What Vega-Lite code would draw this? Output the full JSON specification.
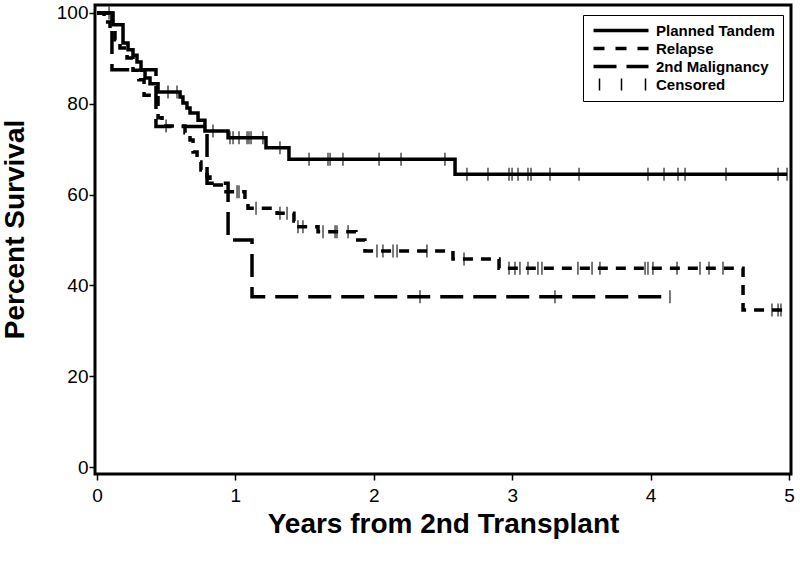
{
  "$schema": "https://vega.github.io/schema/vega-lite/v6.json",
  "width": 696,
  "height": 469,
  "autosize": {"type": "none"},
  "padding": {"left": 95, "top": 5, "right": 9, "bottom": 95},
  "background": "white",
  "config": {
    "view": {"stroke": "black", "strokeWidth": 3},
    "font": "Liberation Sans",
    "axis": {
      "domain": false,
      "grid": false,
      "tickColor": "black",
      "tickWidth": 1.5,
      "labelColor": "black",
      "labelFont": "Liberation Sans",
      "labelFontSize": 19,
      "titleColor": "black",
      "titleFont": "Liberation Sans",
      "titleFontSize": 28,
      "titleFontWeight": "bold"
    }
  },
  "datasets": {
    "curves": [
      {"g": "Planned Tandem", "t": 0, "s": 100},
      {"g": "Planned Tandem", "t": 0.116, "s": 97.4},
      {"g": "Planned Tandem", "t": 0.188, "s": 93.4},
      {"g": "Planned Tandem", "t": 0.224, "s": 91.9},
      {"g": "Planned Tandem", "t": 0.26, "s": 90.7},
      {"g": "Planned Tandem", "t": 0.289, "s": 89.2},
      {"g": "Planned Tandem", "t": 0.318, "s": 87.4},
      {"g": "Planned Tandem", "t": 0.347, "s": 85.7},
      {"g": "Planned Tandem", "t": 0.383, "s": 84.4},
      {"g": "Planned Tandem", "t": 0.441, "s": 82.6},
      {"g": "Planned Tandem", "t": 0.6, "s": 81.5},
      {"g": "Planned Tandem", "t": 0.621, "s": 80.2},
      {"g": "Planned Tandem", "t": 0.65, "s": 79.1},
      {"g": "Planned Tandem", "t": 0.672, "s": 78.0},
      {"g": "Planned Tandem", "t": 0.73, "s": 76.4},
      {"g": "Planned Tandem", "t": 0.78, "s": 74.0},
      {"g": "Planned Tandem", "t": 0.947, "s": 72.5},
      {"g": "Planned Tandem", "t": 1.221, "s": 70.3},
      {"g": "Planned Tandem", "t": 1.387, "s": 67.8},
      {"g": "Planned Tandem", "t": 2.587, "s": 64.5},
      {"g": "Planned Tandem", "t": 4.986, "s": 64.5},
      {"g": "Relapse", "t": 0, "s": 100},
      {"g": "Relapse", "t": 0.051, "s": 98.0},
      {"g": "Relapse", "t": 0.094, "s": 96.3},
      {"g": "Relapse", "t": 0.13, "s": 94.1},
      {"g": "Relapse", "t": 0.166, "s": 92.3},
      {"g": "Relapse", "t": 0.217, "s": 90.1},
      {"g": "Relapse", "t": 0.26, "s": 87.4},
      {"g": "Relapse", "t": 0.303, "s": 85.3},
      {"g": "Relapse", "t": 0.34, "s": 81.9},
      {"g": "Relapse", "t": 0.441, "s": 76.9},
      {"g": "Relapse", "t": 0.47, "s": 75.1},
      {"g": "Relapse", "t": 0.636, "s": 73.6},
      {"g": "Relapse", "t": 0.672, "s": 72.0},
      {"g": "Relapse", "t": 0.694, "s": 69.4},
      {"g": "Relapse", "t": 0.723, "s": 67.2},
      {"g": "Relapse", "t": 0.751, "s": 65.4},
      {"g": "Relapse", "t": 0.795, "s": 63.9},
      {"g": "Relapse", "t": 0.816, "s": 62.1},
      {"g": "Relapse", "t": 0.932, "s": 60.6},
      {"g": "Relapse", "t": 1.069, "s": 58.1},
      {"g": "Relapse", "t": 1.091, "s": 57.0},
      {"g": "Relapse", "t": 1.301, "s": 55.9},
      {"g": "Relapse", "t": 1.423, "s": 54.2},
      {"g": "Relapse", "t": 1.438, "s": 52.9},
      {"g": "Relapse", "t": 1.597, "s": 51.8},
      {"g": "Relapse", "t": 1.871, "s": 50.0},
      {"g": "Relapse", "t": 1.936, "s": 47.6},
      {"g": "Relapse", "t": 2.572, "s": 45.8},
      {"g": "Relapse", "t": 2.905, "s": 43.8},
      {"g": "Relapse", "t": 4.668, "s": 34.6},
      {"g": "Relapse", "t": 4.957, "s": 34.6},
      {"g": "2nd Malignancy", "t": 0, "s": 100},
      {"g": "2nd Malignancy", "t": 0.108, "s": 87.5},
      {"g": "2nd Malignancy", "t": 0.426, "s": 75.0},
      {"g": "2nd Malignancy", "t": 0.795, "s": 62.5},
      {"g": "2nd Malignancy", "t": 0.947, "s": 50.0},
      {"g": "2nd Malignancy", "t": 1.12, "s": 37.5},
      {"g": "2nd Malignancy", "t": 4.14, "s": 37.5}
    ],
    "censor": [
      {"g": "Planned Tandem", "t": 0.087, "s": 100},
      {"g": "Planned Tandem", "t": 0.513, "s": 82.6},
      {"g": "Planned Tandem", "t": 0.578, "s": 82.6},
      {"g": "Planned Tandem", "t": 0.838, "s": 74.0},
      {"g": "Planned Tandem", "t": 0.961, "s": 72.5},
      {"g": "Planned Tandem", "t": 0.983, "s": 72.5},
      {"g": "Planned Tandem", "t": 1.026, "s": 72.5},
      {"g": "Planned Tandem", "t": 1.084, "s": 72.5},
      {"g": "Planned Tandem", "t": 1.098, "s": 72.5},
      {"g": "Planned Tandem", "t": 1.113, "s": 72.5},
      {"g": "Planned Tandem", "t": 1.199, "s": 72.5},
      {"g": "Planned Tandem", "t": 1.322, "s": 70.3},
      {"g": "Planned Tandem", "t": 1.532, "s": 67.8},
      {"g": "Planned Tandem", "t": 1.669, "s": 67.8},
      {"g": "Planned Tandem", "t": 1.684, "s": 67.8},
      {"g": "Planned Tandem", "t": 1.777, "s": 67.8},
      {"g": "Planned Tandem", "t": 2.038, "s": 67.8},
      {"g": "Planned Tandem", "t": 2.197, "s": 67.8},
      {"g": "Planned Tandem", "t": 2.514, "s": 67.8},
      {"g": "Planned Tandem", "t": 2.673, "s": 64.5},
      {"g": "Planned Tandem", "t": 2.825, "s": 64.5},
      {"g": "Planned Tandem", "t": 2.977, "s": 64.5},
      {"g": "Planned Tandem", "t": 2.999, "s": 64.5},
      {"g": "Planned Tandem", "t": 3.042, "s": 64.5},
      {"g": "Planned Tandem", "t": 3.114, "s": 64.5},
      {"g": "Planned Tandem", "t": 3.136, "s": 64.5},
      {"g": "Planned Tandem", "t": 3.273, "s": 64.5},
      {"g": "Planned Tandem", "t": 3.483, "s": 64.5},
      {"g": "Planned Tandem", "t": 3.981, "s": 64.5},
      {"g": "Planned Tandem", "t": 4.097, "s": 64.5},
      {"g": "Planned Tandem", "t": 4.198, "s": 64.5},
      {"g": "Planned Tandem", "t": 4.249, "s": 64.5},
      {"g": "Planned Tandem", "t": 4.545, "s": 64.5},
      {"g": "Planned Tandem", "t": 4.921, "s": 64.5},
      {"g": "Planned Tandem", "t": 4.986, "s": 64.5},
      {"g": "Relapse", "t": 0.499, "s": 75.1},
      {"g": "Relapse", "t": 1.012, "s": 60.6},
      {"g": "Relapse", "t": 1.026, "s": 60.6},
      {"g": "Relapse", "t": 1.149, "s": 57.0},
      {"g": "Relapse", "t": 1.322, "s": 55.9},
      {"g": "Relapse", "t": 1.373, "s": 55.9},
      {"g": "Relapse", "t": 1.452, "s": 52.9},
      {"g": "Relapse", "t": 1.488, "s": 52.9},
      {"g": "Relapse", "t": 1.633, "s": 51.8},
      {"g": "Relapse", "t": 1.72, "s": 51.8},
      {"g": "Relapse", "t": 1.734, "s": 51.8},
      {"g": "Relapse", "t": 1.814, "s": 51.8},
      {"g": "Relapse", "t": 2.023, "s": 47.6},
      {"g": "Relapse", "t": 2.066, "s": 47.6},
      {"g": "Relapse", "t": 2.139, "s": 47.6},
      {"g": "Relapse", "t": 2.168, "s": 47.6},
      {"g": "Relapse", "t": 2.384, "s": 47.6},
      {"g": "Relapse", "t": 2.652, "s": 45.8},
      {"g": "Relapse", "t": 2.977, "s": 43.8},
      {"g": "Relapse", "t": 3.02, "s": 43.8},
      {"g": "Relapse", "t": 3.056, "s": 43.8},
      {"g": "Relapse", "t": 3.114, "s": 43.8},
      {"g": "Relapse", "t": 3.186, "s": 43.8},
      {"g": "Relapse", "t": 3.215, "s": 43.8},
      {"g": "Relapse", "t": 3.475, "s": 43.8},
      {"g": "Relapse", "t": 3.577, "s": 43.8},
      {"g": "Relapse", "t": 3.634, "s": 43.8},
      {"g": "Relapse", "t": 3.96, "s": 43.8},
      {"g": "Relapse", "t": 3.981, "s": 43.8},
      {"g": "Relapse", "t": 4.017, "s": 43.8},
      {"g": "Relapse", "t": 4.191, "s": 43.8},
      {"g": "Relapse", "t": 4.357, "s": 43.8},
      {"g": "Relapse", "t": 4.422, "s": 43.8},
      {"g": "Relapse", "t": 4.523, "s": 43.8},
      {"g": "Relapse", "t": 4.877, "s": 34.6},
      {"g": "Relapse", "t": 4.921, "s": 34.6},
      {"g": "Relapse", "t": 4.942, "s": 34.6},
      {"g": "2nd Malignancy", "t": 2.334, "s": 37.5},
      {"g": "2nd Malignancy", "t": 3.309, "s": 37.5},
      {"g": "2nd Malignancy", "t": 4.14, "s": 37.5}
    ]
  },
  "encoding": {
    "x": {
      "field": "t", "type": "quantitative",
      "scale": {"domain": [-0.0145, 5.0145], "nice": false, "zero": false},
      "axis": {"values": [0, 1, 2, 3, 4, 5], "tickSize": 6, "labelPadding": 6, "title": "Years from 2nd Transplant", "titleY": 50, "titleBaseline": "middle"}
    },
    "y": {
      "field": "s", "type": "quantitative",
      "scale": {"domain": [-1.54, 101.76], "nice": false, "zero": false},
      "axis": {"values": [0, 20, 40, 60, 80, 100], "tickSize": 6, "labelPadding": 1, "title": "Percent Survival", "titleX": -80, "titleY": 224, "titleBaseline": "middle", "titleAngle": -90}
    }
  },
  "layer": [
    {
      "data": {"name": "curves"},
      "mark": {"type": "line", "interpolate": "step-after", "color": "black", "strokeWidth": 3.5},
      "encoding": {
        "order": {"field": "t", "type": "quantitative"},
        "strokeDash": {
          "field": "g", "type": "nominal",
          "scale": {"domain": ["Planned Tandem", "Relapse", "2nd Malignancy"], "range": [[1, 0], [10, 8], [23, 10]]},
          "legend": null
        }
      }
    },
    {
      "data": {"name": "censor"},
      "mark": {"type": "tick", "orient": "vertical", "size": 13, "thickness": 1.5, "color": "black"}
    },
    {
      "data": {"name": "curves"},
      "mark": {"type": "point", "opacity": 0, "filled": true, "color": "black", "size": 100},
      "encoding": {
        "shape": {
          "field": "g", "type": "nominal",
          "scale": {
            "domain": ["Planned Tandem", "Relapse", "2nd Malignancy", "Censored"],
            "range": [
              "M-1,-0.35H10V0.35H-1Z",
              "M-1,-0.35H1.2V0.35H-1ZM3.4,-0.35H5.6V0.35H3.4ZM7.8,-0.35H10V0.35H7.8Z",
              "M-1,-0.35H3.6V0.35H-1ZM5.6,-0.35H10V0.35H5.6Z",
              "M0.05,-1.2H0.35V1.2H0.05ZM4.45,-1.2H4.75V1.2H4.45ZM9.25,-1.2H9.55V1.2H9.25Z"
            ]
          },
          "legend": {
            "title": null,
            "orient": "none",
            "legendX": 488,
            "legendY": 10,
            "direction": "vertical",
            "symbolSize": 100,
            "symbolStrokeColor": "transparent",
            "symbolStrokeWidth": 0,
            "symbolFillColor": "black",
            "symbolOpacity": 1,
            "labelFont": "Liberation Sans",
            "labelFontSize": 15,
            "labelFontWeight": "bold",
            "labelColor": "black",
            "labelOffset": 50,
            "strokeColor": "black",
            "fillColor": "white",
            "padding": 8,
            "rowPadding": 2
          }
        }
      }
    }
  ]
}
